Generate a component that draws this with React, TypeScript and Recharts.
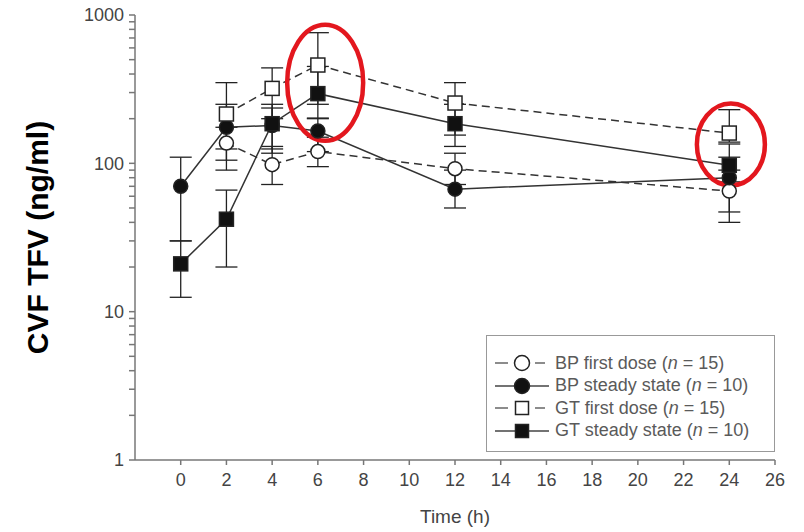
import React from 'react';
import {
  LineChart,
  Line,
  XAxis,
  YAxis,
  ErrorBar,
  Legend,
  ReferenceDot,
} from 'recharts';

// sampling times (h)
const TIMES = [0, 2, 4, 6, 12, 24];

// BP first dose (n = 15)
const BP_FIRST = [null, 137, 98, 120, 92, 65];
const BP_FIRST_LO = [null, 105, 72, 95, 72, 40];
const BP_FIRST_HI = [null, 175, 130, 150, 117, 90];

// BP steady state (n = 10)
const BP_STEADY = [70, 175, 180, 165, 67, 80];
const BP_STEADY_LO = [30, 90, 125, 120, 50, 47];
const BP_STEADY_HI = [110, 250, 236, 202, 90, 110];

// GT first dose (n = 15)
const GT_FIRST = [null, 215, 320, 460, 255, 160];
const GT_FIRST_LO = [null, 125, 200, 250, 155, 139];
const GT_FIRST_HI = [null, 350, 440, 760, 350, 230];

// GT steady state (n = 10)
const GT_STEADY = [21, 42, 185, 295, 185, 97];
const GT_STEADY_LO = [12.5, 20, 117, 200, 130, 75];
const GT_STEADY_HI = [30, 66, 250, 450, 250, 135];

const X_TICKS = [0, 2, 4, 6, 8, 10, 12, 14, 16, 18, 20, 22, 24, 26];
const Y_TICKS = [
  1, 2, 3, 4, 5, 6, 7, 8, 9,
  10, 20, 30, 40, 50, 60, 70, 80, 90,
  100, 200, 300, 400, 500, 600, 700, 800, 900,
  1000,
];

// red highlight circles drawn on the figure
const MARK_X = [6.32, 24.07];
const MARK_Y = [349, 134];

const FONT = '"Liberation Sans", Arial, sans-serif';
const INK = '#222';

type Series = {
  key: string;
  label: string;
  n: number;
  values: (number | null)[];
  lo: (number | null)[];
  hi: (number | null)[];
  dashed: boolean;
  square: boolean;
  filled: boolean;
};

const SERIES: Series[] = [
  { key: 'bpFirst', label: 'BP first dose', n: 15, values: BP_FIRST, lo: BP_FIRST_LO, hi: BP_FIRST_HI, dashed: true, square: false, filled: false },
  { key: 'bpSteady', label: 'BP steady state', n: 10, values: BP_STEADY, lo: BP_STEADY_LO, hi: BP_STEADY_HI, dashed: false, square: false, filled: true },
  { key: 'gtFirst', label: 'GT first dose', n: 15, values: GT_FIRST, lo: GT_FIRST_LO, hi: GT_FIRST_HI, dashed: true, square: true, filled: false },
  { key: 'gtSteady', label: 'GT steady state', n: 10, values: GT_STEADY, lo: GT_STEADY_LO, hi: GT_STEADY_HI, dashed: false, square: true, filled: true },
];

const data = TIMES.map((t, i) => {
  const row: Record<string, unknown> = { time: t };
  for (const s of SERIES) {
    const v = s.values[i];
    row[s.key] = v;
    if (v != null) row[s.key + 'Err'] = [v - (s.lo[i] as number), (s.hi[i] as number) - v];
  }
  return row;
});

const Marker = ({ cx, cy, square, filled, size = 7 }: { cx: number; cy: number; square: boolean; filled: boolean; size?: number }) =>
  square ? (
    <rect x={cx - size} y={cy - size} width={size * 2} height={size * 2} fill={filled ? '#111' : '#fff'} stroke={INK} strokeWidth={1.5} />
  ) : (
    <circle cx={cx} cy={cy} r={size} fill={filled ? '#111' : '#fff'} stroke={INK} strokeWidth={1.5} />
  );

const makeDot = (s: Series) => (props: any) => {
  const { cx, cy, index } = props;
  if (cx == null || cy == null || s.values[index] == null) return <g key={`${s.key}-${index}`} />;
  return (
    <g key={`${s.key}-${index}`}>
      <Marker cx={cx} cy={cy} square={s.square} filled={s.filled} />
    </g>
  );
};

const LegendBox = () => (
  <div
    style={{
      width: 289,
      height: 117,
      boxSizing: 'border-box',
      border: '1px solid #999',
      paddingTop: 16,
      fontFamily: FONT,
      fontSize: 18,
      color: '#5a5a5a',
      background: '#fff',
    }}
  >
    {SERIES.map((s) => (
      <div key={s.key} style={{ display: 'flex', alignItems: 'center', height: 22.5 }}>
        <svg width={62} height={22} style={{ display: 'block' }}>
          {s.dashed ? (
            <>
              <line x1={8} x2={21} y1={11} y2={11} stroke="#666" strokeWidth={1.5} />
              <line x1={48} x2={58} y1={11} y2={11} stroke="#666" strokeWidth={1.5} />
            </>
          ) : (
            <line x1={8} x2={63} y1={11} y2={11} stroke="#444" strokeWidth={1.5} />
          )}
          <Marker cx={35} cy={11} square={s.square} filled={s.filled} size={s.square ? 6.5 : 7.5} />
        </svg>
        <span style={{ marginLeft: 6, whiteSpace: 'nowrap' }}>
          {s.label} (<i>n</i> = {s.n})
        </span>
      </div>
    ))}
  </div>
);

export default function App() {
  return (
    <div style={{ position: 'absolute', left: 0, top: 0, background: '#fff' }}>
      <LineChart width={804} height={532} data={data} margin={{ top: 15, right: 29, bottom: 12, left: 0 }}>
        <XAxis
          dataKey="time"
          type="number"
          domain={[-2, 26]}
          ticks={X_TICKS}
          allowDataOverflow
          stroke="#777"
          strokeWidth={1.5}
          tickSize={5}
          tickMargin={8}
          height={60}
          tick={{ fontSize: 18, fill: '#444', fontFamily: FONT }}
          label={{
            content: (p: any) => {
              const vb = p.viewBox;
              return (
                <text x={vb.x + vb.width / 2} y={vb.y + 63} textAnchor="middle" fontSize={19} fill="#444" fontFamily={FONT}>
                  Time (h)
                </text>
              );
            },
          }}
        />
        <YAxis
          scale="log"
          domain={[1, 1000]}
          ticks={Y_TICKS}
          allowDataOverflow
          interval={0}
          width={135}
          stroke="#777"
          strokeWidth={1.5}
          tickSize={6}
          tickMargin={5}
          tick={{ fontSize: 18, fill: '#444', fontFamily: FONT }}
          tickFormatter={(v: number) => (Number.isInteger(Math.log10(v)) ? String(v) : '')}
          label={{
            content: (p: any) => {
              const vb = p.viewBox;
              const cx = vb.x + 48;
              const cy = vb.y + vb.height / 2;
              return (
                <text
                  x={cx}
                  y={cy}
                  transform={`rotate(-90, ${cx}, ${cy})`}
                  textAnchor="middle"
                  fontSize={30}
                  fontWeight="bold"
                  fill="#000"
                  fontFamily={FONT}
                >
                  CVF TFV (ng/ml)
                </text>
              );
            },
          }}
        />
        <Legend
          layout="vertical"
          align="center"
          verticalAlign="middle"
          content={() => <LegendBox />}
          wrapperStyle={{ left: 486, top: 335, width: 289, height: 117 }}
        />
        {SERIES.map((s) => (
          <Line
            key={s.key}
            dataKey={s.key}
            name={s.label}
            type="linear"
            stroke="#333"
            strokeWidth={1.5}
            strokeDasharray={s.dashed ? '8 5' : undefined}
            dot={makeDot(s)}
            activeDot={false}
            isAnimationActive={false}
          >
            <ErrorBar dataKey={s.key + 'Err'} direction="y" width={11} stroke="#222" strokeWidth={1.3} isAnimationActive={false} />
          </Line>
        ))}
        {MARK_X.map((x, i) => (
          <ReferenceDot
            key={i}
            x={x}
            y={MARK_Y[i]}
            shape={(p: any) => (
              <ellipse cx={p.cx} cy={p.cy} rx={i === 0 ? 38 : 34} ry={i === 0 ? 58 : 41} fill="none" stroke="#e3171e" strokeWidth={4.5} />
            )}
          />
        ))}
      </LineChart>
    </div>
  );
}
